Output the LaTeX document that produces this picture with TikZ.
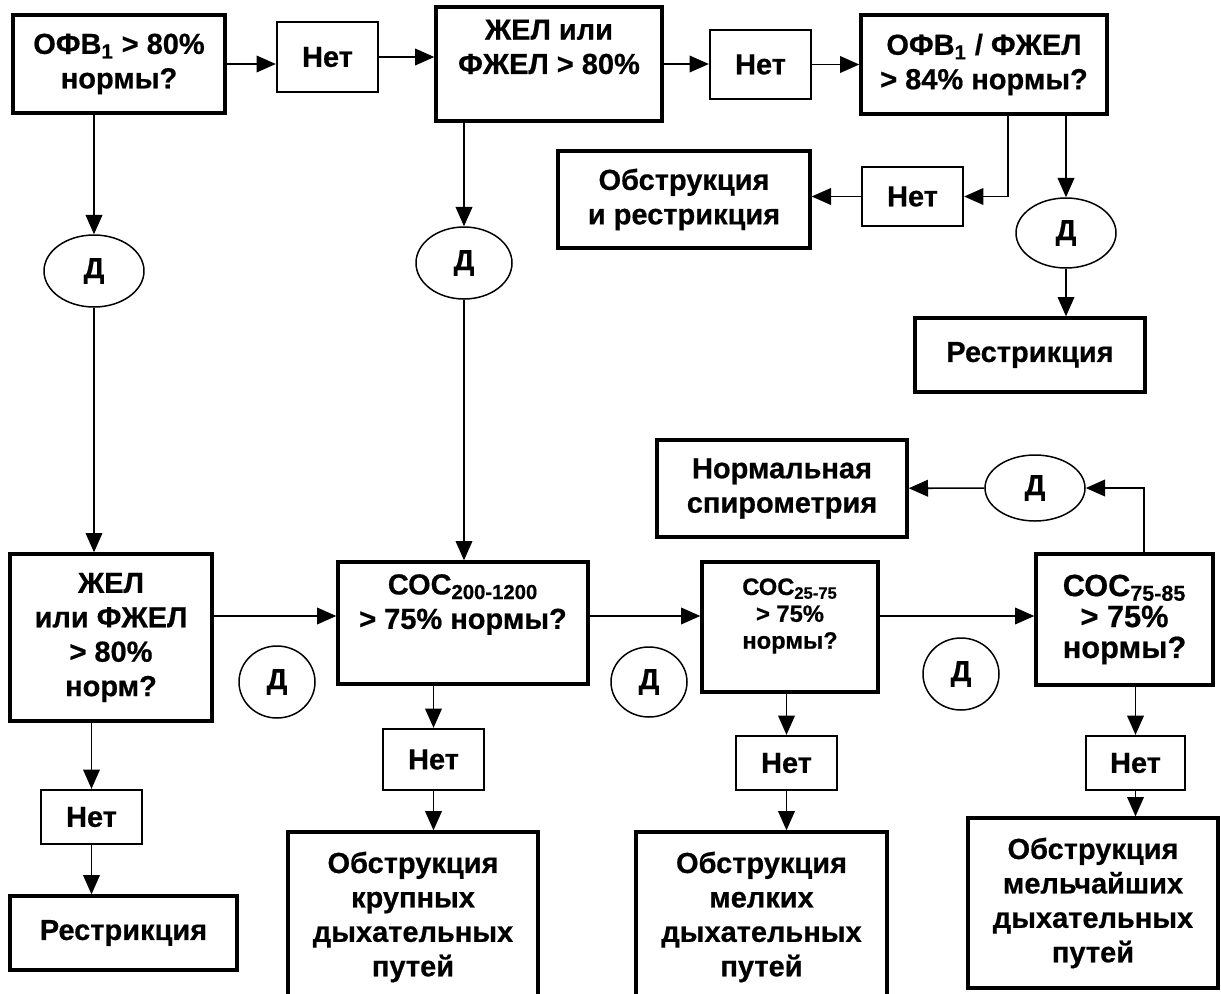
\documentclass[tikz,border=0pt]{standalone}
\usepackage{fontspec}
\setmainfont{Liberation Sans}[BoldFeatures={FakeBold=0.6}]
\usetikzlibrary{arrows.meta,shapes.geometric}

\begin{document}
\begin{tikzpicture}[x=0.02cm,y=-0.02cm,
    every node/.style={font=\bfseries\fontsize{16.5}{19.6}\selectfont,align=center,inner sep=0pt},
    sz/.style 2 args={minimum width=#1*0.02cm,minimum height=#2*0.02cm},
    bigbox/.style={draw,line width=1.9pt},
    nobox/.style={draw,line width=1.3pt},
    dcirc/.style={draw,ellipse,line width=0.85pt},
    arr/.style={line width=0.9pt,-{Triangle[length=11pt,width=9.5pt]}}]
    \useasboundingbox (0,0) rectangle (1221,994);

    \node[bigbox,sz={212}{98}](ofv)at(119,64){ОФВ\textsubscript{1} > 80\%\\нормы?};
    \node[nobox,sz={101}{70}](no1)at(327.5,57){Нет};
    \node[bigbox,sz={226}{114}](zhel)at(549,64){ЖЕЛ или\\ФЖЕЛ > 80\%\\\mbox{}};
    \node[nobox,sz={101}{69}](no2)at(760.5,64.5){Нет};
    \node[bigbox,sz={246}{99}](ofvf)at(984,64.5){ОФВ\textsubscript{1} / ФЖЕЛ\\> 84\% нормы?};

    \node[bigbox,sz={252}{97}](obre)at(684,199.5){Обструкция\\и рестрикция};
    \node[nobox,sz={101}{59}](no3)at(912.5,196.5){Нет};
    \node[dcirc,sz={100}{70}](d3)at(1066,233){Д};
    \node[bigbox,sz={230}{74}](restr1)at(1030,355){Рестрикция};

    \node[dcirc,sz={100}{72}](d1)at(94,271){Д};
    \node[dcirc,sz={96}{72}](d2)at(464,263){Д};

    \node[bigbox,sz={202}{167}](zhel2)at(111,637.5){ЖЕЛ\\или ФЖЕЛ\\> 80\%\\норм?};
    \node[nobox,sz={101}{54}](no4)at(91.5,817){Нет};
    \node[bigbox,sz={227}{74}](restr2)at(123.5,933){Рестрикция};

    \node[bigbox,sz={250}{122}](sos1)at(463,623){СОС\textsubscript{200-1200}\\> 75\% нормы?\\\rule{0pt}{20pt}};
    \node[dcirc,sz={76}{72}](d4)at(277,682){Д};
    \node[nobox,sz={101}{61}](no5)at(433.5,759.5){Нет};
    \node[bigbox,sz={250}{170}](big)at(413,917){Обструкция\\крупных\\дыхательных\\путей};

    \node[bigbox,sz={250}{97}](norm)at(782,488.5){Нормальная\\спирометрия};
    \node[bigbox,sz={176}{130},font=\bfseries\fontsize{13.5}{15.3}\selectfont](sos2)at(790,627){СОС\textsubscript{25-75}\\> 75\%\\нормы?\\\mbox{}};
    \node[dcirc,sz={76}{70}](d5)at(649,682){Д};
    \node[dcirc,sz={76}{72}](d6)at(961,674){Д};
    \node[nobox,sz={101}{54}](no6)at(786.5,763){Нет};
    \node[bigbox,sz={251}{170}](small)at(761.5,917){Обструкция\\мелких\\дыхательных\\путей};

    \node[bigbox,sz={177}{131},font=\bfseries\fontsize{17.5}{17.6}\selectfont](sos3)at(1124.5,619.5){СОС\textsubscript{75-85}\\> 75\%\\нормы?};
    \node[dcirc,sz={100}{66}](d7)at(1035,488){Д};
    \node[nobox,sz={99}{54}](no7)at(1135.5,763){Нет};
    \node[bigbox,sz={250}{170}](smallest)at(1093,903){Обструкция\\мельчайших\\дыхательных\\путей};

    \coordinate(row)at(0,616);

    \draw[arr](ofv.east)--(ofv.east-|no1.west);
    \draw[arr](no1.east)--(no1.east-|zhel.west);
    \draw[arr](zhel.east)--(zhel.east-|no2.west);
    \draw[arr](no2.east)--(no2.east-|ofvf.west);

    \draw[arr]([xshift=0.48cm]ofvf.south)|-(no3.east);
    \draw[arr](no3.west)--(no3.west-|obre.east);
    \draw[arr](ofvf.south-|d3)--(d3);
    \draw[arr](d3)--(d3|-restr1.north);

    \draw[arr](ofv.south-|d1)--(d1);
    \draw[arr](d1)--(d1|-zhel2.north);
    \draw[arr](zhel.south-|d2)--(d2);
    \draw[arr](d2)--(d2|-sos1.north);

    \draw[arr](zhel2.south-|no4)--(no4);
    \draw[arr](no4)--(no4|-restr2.north);

    \draw[arr](zhel2.east|-row)--(sos1.west|-row);
    \draw[arr](sos1.east|-row)--(sos2.west|-row);
    \draw[arr](sos2.east|-row)--(sos3.west|-row);

    \draw[arr](sos1.south-|no5)--(no5);
    \draw[arr](no5)--(no5|-big.north);
    \draw[arr](sos2.south-|no6)--(no6);
    \draw[arr](no6)--(no6|-small.north);
    \draw[arr](sos3.south-|no7)--(no7);
    \draw[arr](no7)--(no7|-smallest.north);

    \draw[arr]([xshift=0.39cm]sos3.north)|-(d7);
    \draw[arr](d7)--(norm);
\end{tikzpicture}
\end{document}
